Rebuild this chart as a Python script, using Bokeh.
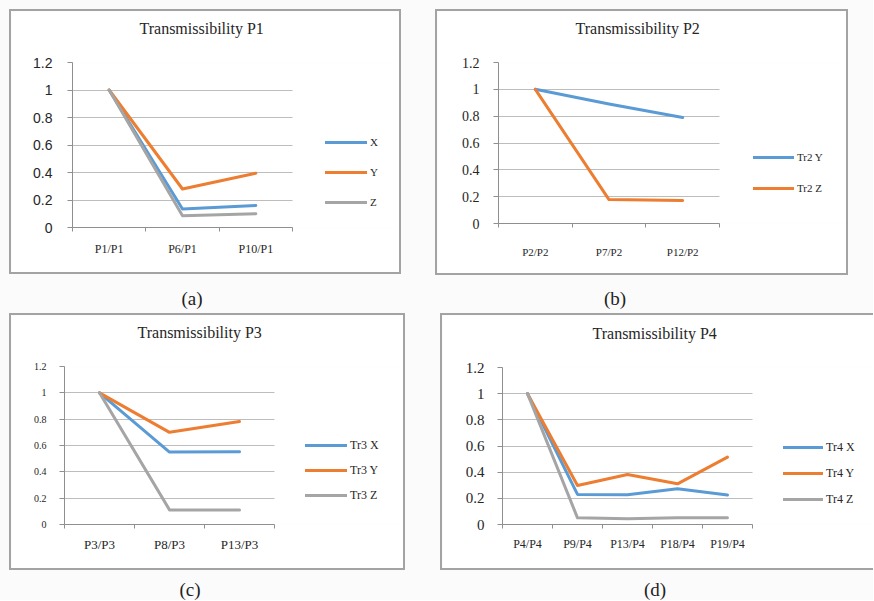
from bokeh.plotting import figure
from bokeh.models import (Range1d, FixedTicker, LinearAxis, CustomJSTickFormatter,
                          NumeralTickFormatter, Legend, LegendItem, Div, Spacer, Grid)
from bokeh.layouts import column, row
from bokeh.embed import file_html
from bokeh.resources import INLINE

# ---------------- data ----------------
y_ticks = [0, 0.2, 0.4, 0.6, 0.8, 1, 1.2]

titles = ["Transmissibility P1", "Transmissibility P2", "Transmissibility P3", "Transmissibility P4"]
captions = ["(a)", "(b)", "(c)", "(d)"]

cats_a = ["P1/P1", "P6/P1", "P10/P1"]
a_labels = ["X", "Y", "Z"]
a_x = [1, 0.135, 0.16]
a_y = [1, 0.28, 0.395]
a_z = [1, 0.085, 0.10]

cats_b = ["P2/P2", "P7/P2", "P12/P2"]
b_labels = ["Tr2 Y", "Tr2 Z"]
b_y = [1, 0.89, 0.79]
b_z = [1, 0.178, 0.171]

cats_c = ["P3/P3", "P8/P3", "P13/P3"]
c_labels = ["Tr3 X", "Tr3 Y", "Tr3 Z"]
c_x = [1, 0.55, 0.553]
c_y = [1, 0.70, 0.782]
c_z = [1, 0.111, 0.111]

cats_d = ["P4/P4", "P9/P4", "P13/P4", "P18/P4", "P19/P4"]
d_labels = ["Tr4 X", "Tr4 Y", "Tr4 Z"]
d_x = [1, 0.23, 0.228, 0.273, 0.225]
d_y = [1, 0.298, 0.382, 0.311, 0.515]
d_z = [1, 0.051, 0.044, 0.052, 0.051]

BLUE, ORANGE, GREY = "#5b9bd5", "#ed7d31", "#a5a5a5"
SERIF = "Liberation Serif"
SANS = "Liberation Sans"
TEXT = "#262626"
AXIS = "#8f8f8f"
GRID = "#bdbdbd"
BORDER = "2px solid #a3a3a3"
BR = 2  # right border inside panel


def panel(title, cats, series, W, H, bl, bt, bb, plot_w, t_off,
          yfont, ysize, ystand, csize, cstand, leg_loc, leg_space, leg_gw,
          leg_size, css):
    n = len(cats)
    frame_w = W - bl - BR
    x_end = n * frame_w / plot_w   # frame also hosts the legend area on the right
    p = figure(width=W, height=H, x_range=Range1d(0, x_end), y_range=Range1d(0, 1.2),
               x_axis_type=None, y_axis_type=None, output_backend="svg",
               toolbar_location=None, min_border_left=bl, min_border_top=bt,
               min_border_right=BR, min_border_bottom=bb, title=title + "\n ",
               background_fill_color="white", border_fill_color="white",
               styles=css)
    p.outline_line_color = None
    p.title.align = "left"
    p.title.offset = t_off
    p.title.standoff = 0
    p.title.text_line_height = 1.5
    p.title.text_font = SERIF
    p.title.text_font_size = "16px"
    p.title.text_font_style = "normal"
    p.title.text_color = TEXT

    yt = FixedTicker(ticks=y_ticks)
    grid = Grid(dimension=1, ticker=yt, grid_line_color=GRID, grid_line_width=1)
    if "cross_bounds" in Grid.properties():
        grid.cross_bounds = (0, n)
        p.add_layout(grid)
    else:
        p.segment(x0=[0] * len(y_ticks), x1=[n] * len(y_ticks), y0=y_ticks, y1=y_ticks,
                  line_color=GRID, line_width=1)
    yax = LinearAxis(ticker=yt, formatter=NumeralTickFormatter(format="0.[0]"),
                     axis_line_color=AXIS, major_tick_line_color=AXIS,
                     major_tick_out=5, major_tick_in=0, minor_tick_line_color=None,
                     major_label_standoff=ystand, major_label_text_font=yfont,
                     major_label_text_font_size=ysize, major_label_text_color=TEXT)
    p.add_layout(yax, "left")

    centers = [i + 0.5 for i in range(n)]
    bounds = [i for i in range(n + 1)]
    xax = LinearAxis(ticker=FixedTicker(ticks=centers, minor_ticks=bounds), bounds=(0, n),
                     formatter=CustomJSTickFormatter(args=dict(labels=cats),
                                                     code="return labels[Math.floor(tick)];"),
                     axis_line_color=AXIS, major_tick_line_color=None,
                     major_tick_out=0, major_tick_in=0,
                     minor_tick_line_color=AXIS, minor_tick_out=4, minor_tick_in=0,
                     major_label_standoff=cstand, major_label_text_font=SERIF,
                     major_label_text_font_size=csize, major_label_text_color=TEXT)
    p.add_layout(xax, "below")

    items = []
    for lab, vals, col in series:
        r = p.line(x=centers, y=vals, line_color=col, line_width=3,
                   line_join="round", line_cap="round")
        items.append(LegendItem(label=lab, renderers=[r]))
    leg = Legend(items=items, location=leg_loc, orientation="vertical", padding=0,
                 margin=0, spacing=leg_space, glyph_width=leg_gw, glyph_height=20,
                 label_height=20, label_standoff=3, label_text_font=SERIF,
                 label_text_font_size=leg_size, label_text_color=TEXT,
                 border_line_color=None, background_fill_alpha=0)
    p.add_layout(leg, "center")
    return p


pa = panel(titles[0], cats_a,
           [(a_labels[0], a_x, BLUE), (a_labels[1], a_y, ORANGE), (a_labels[2], a_z, GREY)],
           392, 265, 61, 51, 49, 220, 67, SANS, "14px", 15, "12px", 10,
           (253, 15), 10, 42, "11px", {"border": BORDER})
pb = panel(titles[1], cats_b,
           [(b_labels[0], b_y, BLUE), (b_labels[1], b_z, ORANGE)],
           413, 266, 61, 51, 54, 221, 77, SERIF, "14px", 14, "11px", 18,
           (255, 25), 11, 41, "11px", {"border": BORDER})
pc = panel(titles[2], cats_c,
           [(c_labels[0], c_x, BLUE), (c_labels[1], c_y, ORANGE), (c_labels[2], c_z, GREY)],
           396, 257, 53, 51, 48, 210, 73, SERIF, "10px", 13, "13px", 8,
           (241, 19), 5, 42, "12px", {"border": BORDER})
pd = panel(titles[3], cats_d,
           [(d_labels[0], d_x, BLUE), (d_labels[1], d_y, ORANGE), (d_labels[2], d_z, GREY)],
           433, 257, 60, 52, 48, 250, 90, SERIF, "15px", 13, "12px", 8,
           (281, 15), 6, 40, "12px",
           {"border-top": BORDER, "border-left": BORDER, "border-bottom": BORDER})


def caption_row(h, specs):
    spans = "".join(
        '<span style="position:absolute;left:%dpx;top:%dpx;transform:translateX(-50%%);'
        'white-space:nowrap;line-height:19px;">%s</span>' % (cx, ty, txt)
        for cx, ty, txt in specs)
    html = ('<div style="position:relative;width:873px;height:%dpx;font-family:\'Liberation Serif\';'
            'font-size:19px;color:#222;">%s</div>' % (h, spans))
    return Div(text=html, width=873, height=h, margin=0)


cap1 = caption_row(38, [(192, 14, captions[0]), (615, 14, captions[1])])
cap2 = caption_row(30, [(190, 10, captions[2]), (655, 10, captions[3])])

root = column(
    Spacer(width=10, height=9),
    row(Spacer(width=9, height=266), column(pa), Spacer(width=34, height=10), column(pb)),
    cap1,
    row(Spacer(width=9, height=257), column(pc), Spacer(width=35, height=10), column(pd)),
    cap2,
    styles={"background-color": "#fcfbfb"},
)

open("out.html", "w").write(file_html(root, INLINE))
